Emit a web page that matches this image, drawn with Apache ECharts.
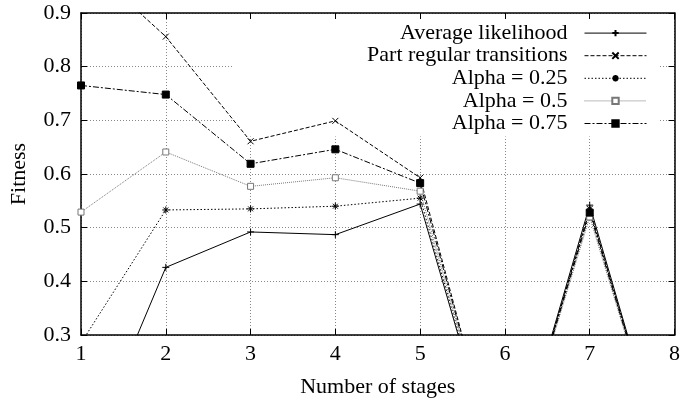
<!DOCTYPE html>
<html>
<head>
<meta charset="utf-8">
<script src="https://cdn.jsdelivr.net/npm/echarts@6/dist/echarts.min.js"></script>
<style>
  html, body { margin: 0; padding: 0; background: #fff; }
  #chart { width: 683px; height: 403px; }
</style>
</head>
<body>
<div id="chart"></div>
<script>
// Fitness against number of stages, one line per method
const stages = [1, 2, 3, 4, 5, 6, 7, 8];
const averageLikelihood = [0.05, 0.426, 0.492, 0.487, 0.544, 0, 0.542, 0];
const partRegular       = [1.0, 0.856, 0.661, 0.699, 0.593, 0, 0.535, 0];
const alpha025          = [0.285, 0.533, 0.535, 0.540, 0.555, 0, 0.532, 0];
const alpha05           = [0.529, 0.641, 0.577, 0.593, 0.568, 0, 0.520, 0];
const alpha075          = [0.765, 0.748, 0.619, 0.646, 0.583, 0, 0.528, 0];
const seriesNames = ['Average likelihood', 'Part regular transitions', 'Alpha = 0.25', 'Alpha = 0.5', 'Alpha = 0.75'];
const xTicks = { min: 1, max: 8, step: 1 };
const yTicks = { min: 0.3, max: 0.9, step: 0.1 };

const FONT = '"Liberation Serif", "Times New Roman", serif';
const FONT_SIZE = 22;
const pair = (ys) => stages.map((x, i) => [x, ys[i]]);

const PLUS = 'path://M0,-1L0,1M-1,0L1,0';
const CROSS = 'path://M-1,-1L1,1M-1,1L1,-1';
const STAR = 'path://M0,-1L0,1M-1,0L1,0M-0.7,-0.7L0.7,0.7M-0.7,0.7L0.7,-0.7';

function lineSeries(name, ys, opts) {
  return {
    name: name,
    type: 'line',
    data: pair(ys),
    z: 2,
    clip: true,
    symbol: opts.symbol,
    symbolSize: opts.symbolSize,
    symbolKeepAspect: true,
    showAllSymbol: true,
    lineStyle: { color: opts.color, width: 1, type: opts.dash },
    itemStyle: {
      color: opts.fill,
      borderColor: opts.color,
      borderWidth: 1
    },
    emphasis: { disabled: true },
    animation: false
  };
}

const chart = echarts.init(document.getElementById('chart'), null, { renderer: 'canvas' });

const grid = { left: 80, right: 8, top: 13, bottom: 67 };

chart.setOption({
  animation: false,
  backgroundColor: '#fff',
  grid: grid,
  legend: {
    data: seriesNames,
    orient: 'vertical',
    align: 'right',
    right: 23,
    top: 14,
    z: 1,
    backgroundColor: '#fff',
    padding: [8, 13, 2, 134],
    itemGap: 0.4,
    itemWidth: 62,
    itemHeight: 8,
    selectedMode: false,
    lineStyle: { width: 1 },
    textStyle: {
      fontFamily: FONT,
      fontSize: FONT_SIZE,
      color: '#000',
      lineHeight: 22.2,
      padding: [0, 12, 0, 0]
    }
  },
  xAxis: [{
    type: 'value',
    min: xTicks.min, max: xTicks.max, interval: xTicks.step,
    name: 'Number of stages',
    nameLocation: 'middle',
    nameGap: 41,
    nameTextStyle: { fontFamily: FONT, fontSize: FONT_SIZE, color: '#000' },
    axisLine: { lineStyle: { color: '#000', width: 1.5 } },
    axisTick: { inside: true, length: 6, lineStyle: { color: '#000', width: 1 } },
    axisLabel: { fontFamily: FONT, fontSize: FONT_SIZE, color: '#000', margin: 8 },
    splitLine: { show: true, lineStyle: { color: '#888', width: 1, type: [1, 2] } }
  }, {
    type: 'value', position: 'top',
    min: xTicks.min, max: xTicks.max, interval: xTicks.step,
    z: 5,
    axisLine: { show: true, lineStyle: { color: '#000', width: 1.5 } },
    axisTick: { inside: true, length: 6, lineStyle: { color: '#000', width: 1 } },
    axisLabel: { show: false },
    splitLine: { show: false }
  }],
  yAxis: [{
    type: 'value',
    min: yTicks.min, max: yTicks.max, interval: yTicks.step,
    name: 'Fitness',
    nameLocation: 'middle',
    nameGap: 51,
    nameTextStyle: { fontFamily: FONT, fontSize: FONT_SIZE, color: '#000' },
    axisLine: { show: true, lineStyle: { color: '#000', width: 1.5 } },
    axisTick: { show: true, inside: true, length: 6, lineStyle: { color: '#000', width: 1 } },
    axisLabel: { fontFamily: FONT, fontSize: FONT_SIZE, color: '#000', margin: 10,
                 formatter: (v) => v.toFixed(1) },
    splitLine: { show: true, lineStyle: { color: '#888', width: 1, type: [1, 2] } }
  }, {
    type: 'value', position: 'right',
    min: yTicks.min, max: yTicks.max, interval: yTicks.step,
    z: 5,
    axisLine: { show: true, lineStyle: { color: '#000', width: 1.5 } },
    axisTick: { show: true, inside: true, length: 6, lineStyle: { color: '#000', width: 1 } },
    axisLabel: { show: false },
    splitLine: { show: false }
  }],
  series: [
    lineSeries(seriesNames[0], averageLikelihood, { symbol: PLUS, symbolSize: 7, color: '#000', fill: 'none', dash: 'solid' }),
    lineSeries(seriesNames[1], partRegular, { symbol: CROSS, symbolSize: 6, color: '#000', fill: 'none', dash: [4, 2] }),
    lineSeries(seriesNames[2], alpha025, { symbol: STAR, symbolSize: 7, color: '#000', fill: 'none', dash: [1.5, 2] }),
    lineSeries(seriesNames[3], alpha05, { symbol: 'rect', symbolSize: 6, color: '#777', fill: '#fff', dash: [1, 1] }),
    lineSeries(seriesNames[4], alpha075, { symbol: 'rect', symbolSize: 7, color: '#000', fill: '#000', dash: [6, 2, 2, 2] })
  ]
});
</script>
</body>
</html>
